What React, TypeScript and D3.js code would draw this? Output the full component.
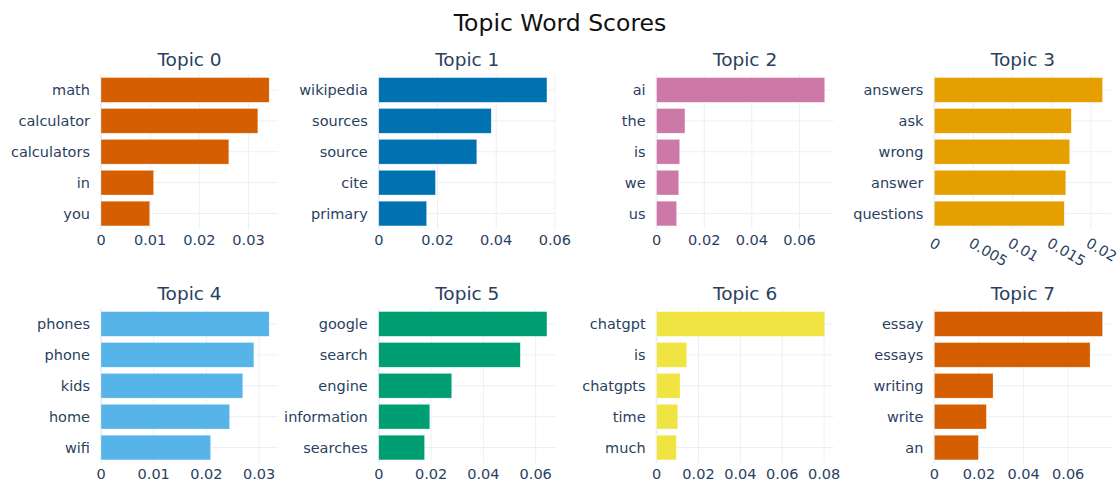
import { useRef, useEffect } from 'react';
import * as d3 from 'd3';

const topicNames = ['Topic 0', 'Topic 1', 'Topic 2', 'Topic 3', 'Topic 4', 'Topic 5', 'Topic 6', 'Topic 7'];

const topicWords: string[][] = [
    ['math', 'calculator', 'calculators', 'in', 'you'],
    ['wikipedia', 'sources', 'source', 'cite', 'primary'],
    ['ai', 'the', 'is', 'we', 'us'],
    ['answers', 'ask', 'wrong', 'answer', 'questions'],
    ['phones', 'phone', 'kids', 'home', 'wifi'],
    ['google', 'search', 'engine', 'information', 'searches'],
    ['chatgpt', 'is', 'chatgpts', 'time', 'much'],
    ['essay', 'essays', 'writing', 'write', 'an'],
];

const topicScores: number[][] = [
    [0.0342, 0.0319, 0.0260, 0.0107, 0.0099],
    [0.0573, 0.0383, 0.0334, 0.0193, 0.0163],
    [0.0706, 0.0119, 0.0097, 0.0093, 0.0084],
    [0.0215, 0.0175, 0.0173, 0.0168, 0.0166],
    [0.0319, 0.0290, 0.0269, 0.0244, 0.0208],
    [0.0643, 0.0541, 0.0279, 0.0195, 0.0175],
    [0.0803, 0.0144, 0.0112, 0.0101, 0.0094],
    [0.0754, 0.0698, 0.0263, 0.0233, 0.0197],
];

const palette = ['#D55E00', '#0072B2', '#CC79A7', '#E69F00', '#56B4E9', '#009E73', '#F0E442'];

const WIDTH = 1120;
const HEIGHT = 483;
const FONT = '"DejaVu Sans", verdana, arial, sans-serif';
const TEXT = '#2a3f5f';
const GRID = '#ebf0f8';

export default function App() {
    const svgRef = useRef<SVGSVGElement>(null);

    useEffect(() => {
        if (!svgRef.current) return;
        const svg = d3.select(svgRef.current);
        svg.selectAll('*').remove();

        svg.append('rect').attr('width', WIDTH).attr('height', HEIGHT).attr('fill', 'white');

        svg.append('text')
            .attr('x', WIDTH / 2)
            .attr('y', 31)
            .attr('text-anchor', 'middle')
            .attr('fill', '#111')
            .style('font-family', FONT)
            .style('font-size', '23.5px')
            .text('Topic Word Scores');

        const plotW = 177;
        const plotH = 154.5;
        const lefts = [101, 378.8, 656.6, 934.4];
        const tops = [74.5, 308.5];
        const fmt = d3.format('~g');

        topicNames.forEach((name, i) => {
            const left = lefts[i % 4];
            const top = tops[Math.floor(i / 4)];
            const words = topicWords[i];
            const scores = topicScores[i];
            const color = palette[i % palette.length];
            const maxV = d3.max(scores) as number;

            const x = d3.scaleLinear().domain([0, maxV / 0.95]).range([0, plotW]);
            const y = d3.scaleBand().domain(words).range([0, plotH]).paddingInner(0.2).paddingOuter(0.1);

            const g = svg.append('g').attr('transform', `translate(${left},${top})`);

            const ticks = x.ticks(4);
            const step = x(ticks[1]) - x(ticks[0]);
            const maxLen = d3.max(ticks, t => fmt(t).length) as number;
            const rotate = maxLen * 7.5 + 6 > step;

            // horizontal grid at categories
            g.selectAll('line.hgrid')
                .data(words)
                .enter()
                .append('line')
                .attr('x1', 0)
                .attr('x2', plotW)
                .attr('y1', d => (y(d) as number) + y.bandwidth() / 2)
                .attr('y2', d => (y(d) as number) + y.bandwidth() / 2)
                .attr('stroke', GRID)
                .attr('stroke-width', 1);

            // vertical grid at ticks
            g.selectAll('line.vgrid')
                .data(ticks)
                .enter()
                .append('line')
                .attr('x1', d => x(d))
                .attr('x2', d => x(d))
                .attr('y1', 0)
                .attr('y2', plotH)
                .attr('stroke', GRID)
                .attr('stroke-width', d => (d === 0 ? 2 : 1));

            g.selectAll('rect.bar')
                .data(scores)
                .enter()
                .append('rect')
                .attr('x', x(0))
                .attr('y', (_, j) => y(words[j]) as number)
                .attr('width', d => x(d) - x(0))
                .attr('height', y.bandwidth())
                .attr('fill', color)
                .attr('stroke', 'rgba(255,255,255,0.6)')
                .attr('stroke-width', 0.5);

            // y labels
            g.selectAll('text.ylab')
                .data(words)
                .enter()
                .append('text')
                .attr('x', -11)
                .attr('y', d => (y(d) as number) + y.bandwidth() / 2)
                .attr('dy', '0.35em')
                .attr('text-anchor', 'end')
                .attr('fill', TEXT)
                .style('font-family', FONT)
                .style('font-size', '14.5px')
                .text(d => d);

            // x labels
            const xl = g.selectAll('text.xlab')
                .data(ticks)
                .enter()
                .append('text')
                .attr('fill', TEXT)
                .style('font-family', FONT)
                .style('font-size', '14.5px')
                .text(d => fmt(d));
            if (rotate) {
                xl.attr('transform', d => `translate(${x(d)},${plotH + 7}) rotate(30)`)
                    .attr('dy', '0.8em')
                    .attr('text-anchor', 'start');
            } else {
                xl.attr('x', d => x(d))
                    .attr('y', plotH + 16)
                    .attr('text-anchor', 'middle');
            }

            g.append('text')
                .attr('x', plotW / 2)
                .attr('y', -8.5)
                .attr('text-anchor', 'middle')
                .attr('fill', TEXT)
                .style('font-family', FONT)
                .style('font-size', '18.5px')
                .text(name);
        });
    }, []);

    return (
        <svg
            ref={svgRef}
            width={WIDTH}
            height={HEIGHT}
            style={{ position: 'absolute', left: 0, top: 0, display: 'block' }}
        />
    );
}
